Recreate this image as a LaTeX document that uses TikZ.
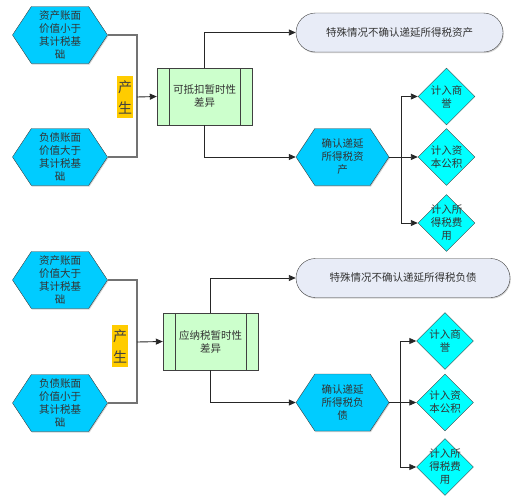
\documentclass[tikz,border=0pt]{standalone}
\usepackage{fontspec}
\setmainfont{Noto Sans CJK SC}
\usetikzlibrary{shapes.geometric,shapes.symbols,shapes.misc,arrows.meta,shadows}
\definecolor{hexblue}{RGB}{0,204,255}
\definecolor{diacyan}{RGB}{0,255,255}
\definecolor{boxgreen}{RGB}{204,255,204}
\definecolor{tagyellow}{RGB}{255,204,0}
\definecolor{capgray}{RGB}{232,236,247}
\tikzset{
  base/.style={draw=black!75, text=black!80, align=center, inner sep=0pt,
    font=\fontsize{10.5}{13}\selectfont},
  softshadow/.style={drop shadow={shadow xshift=0.8pt,shadow yshift=-1.2pt,fill=black!35}},
  hexnode/.style={base, signal, signal to=west and east, signal pointer angle=113,
    fill=hexblue, minimum width=95pt, minimum height=57pt, softshadow},
  diffbox/.style={base, rectangle, fill=boxgreen, minimum width=95pt, minimum height=57pt, softshadow,
    path picture={
      \draw[black!75] ([xshift=12pt]path picture bounding box.north west) -- ([xshift=12pt]path picture bounding box.south west);
      \draw[black!75] ([xshift=-12pt]path picture bounding box.north east) -- ([xshift=-12pt]path picture bounding box.south east);}},
  capbox/.style={base, rounded rectangle, fill=capgray, minimum height=39pt, softshadow},
  choice/.style={base, diamond, fill=diacyan, minimum width=57pt, minimum height=57pt},
  choicetext/.style={text=black!80, align=center, font=\fontsize{10.5}{13}\selectfont},
  tag/.style={fill=tagyellow, text=black!75, align=center, inner sep=0pt,
    minimum width=16pt, minimum height=42pt, font=\fontsize{14}{21}\selectfont},
  feed/.style={draw=black!55, line width=1.6pt},
  arr/.style={draw=black!85, line width=0.9pt, -{Triangle[length=7pt,width=6pt]}}
}
\begin{document}
\begin{tikzpicture}[x=1pt,y=-1pt]
\useasboundingbox (0,0) rectangle (511,499);
% upper half
\node[hexnode] (h1) at (60,35) {资产账面\\价值小于\\其计税基\\础};
\node[hexnode] (h2) at (60,157) {负债账面\\价值大于\\其计税基\\础};
\node[tag] (t1) at (125,97) {产\\生};
\node[diffbox] (b1) at (204.5,96.5) {可抵扣暂时性\\差异};
\node[capbox, minimum width=207pt] (s1) at (399.5,32.5) {特殊情况不确认递延所得税资产};
\node[hexnode, minimum width=93pt] (r1) at (342.5,157) {确认递延\\所得税资\\产};
\node[choice, label={[choicetext]center:计入商\\誉}] (c1) at (446.5,96.5) {};
\node[choice, label={[choicetext]center:计入资\\本公积}] (c2) at (446.5,157) {};
\node[choice, label={[choicetext]center:计入所\\得税费\\用}] (c3) at (446.5,223) {};
\coordinate (j1) at (137,97);
\coordinate (k1) at (401,157);
\draw[feed] (h1.east) -| (j1) |- (h2.east);
\draw[arr] (j1) -- (b1.west);
\draw[arr] (b1.north) |- (s1.west);
\draw[arr] (b1.south) |- (r1.west);
\draw[arr] (r1.east) -- (c2.west);
\draw[arr] (k1) |- (c1.west);
\draw[arr] (k1) |- (c3.west);
% lower half
\node[hexnode] (h3) at (60,280) {资产账面\\价值大于\\其计税基\\础};
\node[hexnode] (h4) at (60,403) {负债账面\\价值小于\\其计税基\\础};
\node[tag] (t2) at (120,346) {产\\生};
\node[diffbox] (b2) at (210.5,341.5) {应纳税暂时性\\差异};
\node[capbox, minimum width=214pt] (s2) at (403,278) {特殊情况不确认递延所得税负债};
\node[hexnode, minimum width=93pt] (r2) at (342.5,402.5) {确认递延\\所得税负\\债};
\node[choice, label={[choicetext]center:计入商\\誉}] (c4) at (445,341) {};
\node[choice, label={[choicetext]center:计入资\\本公积}] (c5) at (445,402.5) {};
\node[choice, label={[choicetext]center:计入所\\得税费\\用}] (c6) at (445,467) {};
\coordinate (j2) at (137,342);
\coordinate (k2) at (400,402.5);
\draw[feed] (h3.east) -| (j2) |- (h4.east);
\draw[arr] (j2) -- (b2.west);
\draw[arr] (b2.north) |- (s2.west);
\draw[arr] (b2.south) |- (r2.west);
\draw[arr] (r2.east) -- (c5.west);
\draw[arr] (k2) |- (c4.west);
\draw[arr] (k2) |- (c6.west);
\end{tikzpicture}
\end{document}
